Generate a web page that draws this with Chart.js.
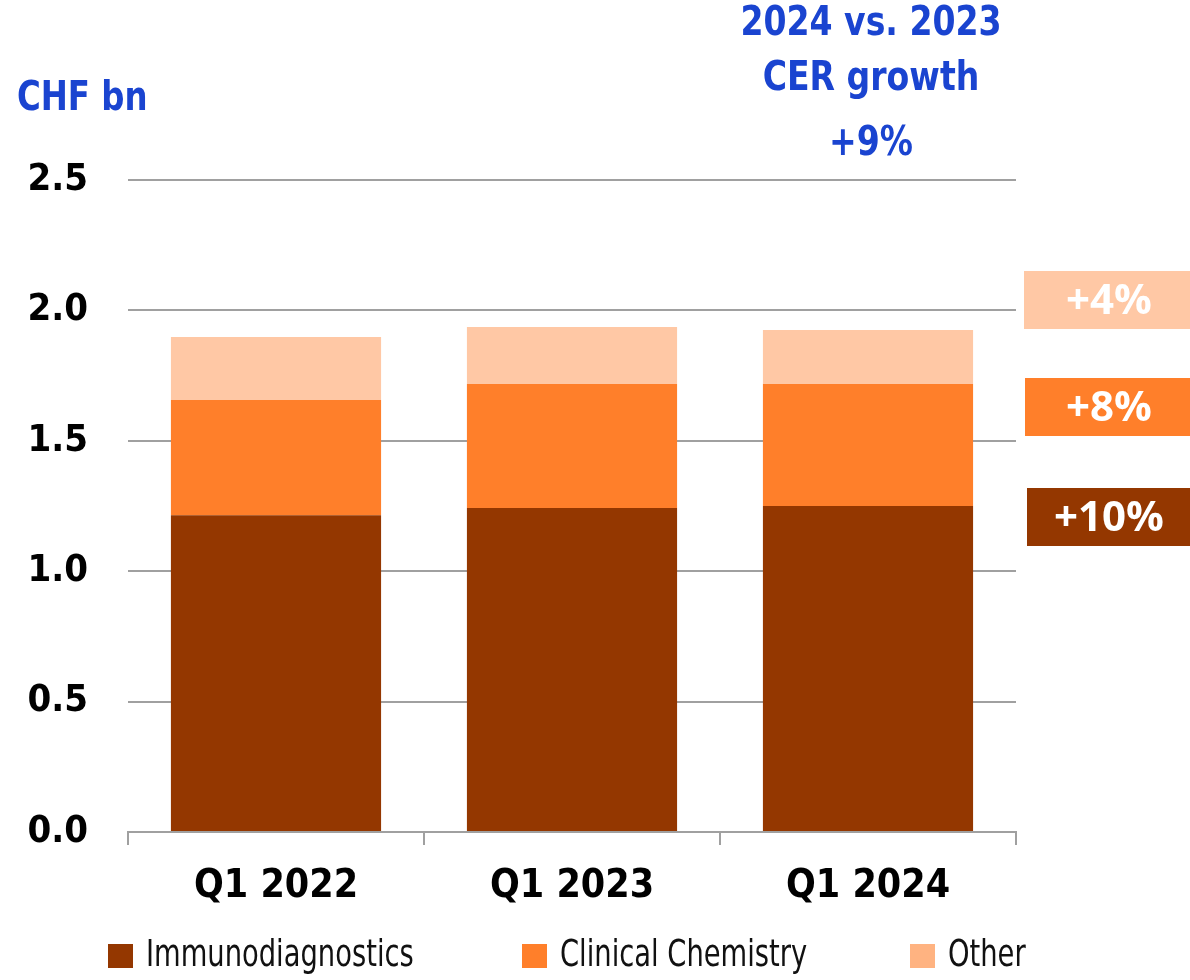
<!DOCTYPE html>
<html>
<head>
<meta charset="utf-8">
<script src="https://cdn.jsdelivr.net/npm/chart.js@4.4.1/dist/chart.umd.min.js"></script>
<style>
  html, body { margin:0; padding:0; background:#fff; }
  #wrap { position:relative; width:1190px; height:980px; }
</style>
</head>
<body>
<div id="wrap"><canvas id="chart" width="1190" height="980"></canvas></div>
<script>
// values in CHF bn
const categories = ['Q1 2022', 'Q1 2023', 'Q1 2024'];
const immunoValues = [1.215, 1.242, 1.250];
const clinicalValues = [0.441, 0.476, 0.468];
const otherValues = [0.242, 0.218, 0.207];
const yTicks = [0, 0.5, 1.0, 1.5, 2.0, 2.5];

const seriesNames = ['Immunodiagnostics', 'Clinical Chemistry', 'Other'];
const seriesColors = ['#943700', '#FF7F2A', '#FFC8A5'];
const legendColors = ['#943700', '#FF7F2A', '#FFB381'];
const growthLabels = ['+10%', '+8%', '+4%'];

const BLUE = '#1A44D0';
const COND = '"DejaVu Sans Condensed", "DejaVu Sans", sans-serif';

// draw text squeezed horizontally (the original uses a condensed face)
function squeezed(ctx, text, x, y, sx) {
  ctx.save();
  ctx.translate(x, y);
  ctx.scale(sx, 1);
  ctx.fillText(text, 0, 0);
  ctx.restore();
}

const annotations = {
  id: 'annotations',
  afterDraw(chart) {
    const ctx = chart.ctx;
    ctx.save();
    // unit + headline
    ctx.fillStyle = BLUE;
    ctx.font = 'bold 40px ' + COND;
    ctx.textBaseline = 'middle';
    ctx.textAlign = 'left';
    squeezed(ctx, 'CHF bn', 17, 100, 0.9);
    ctx.textAlign = 'center';
    squeezed(ctx, '2024 vs. 2023', 871, 25, 0.92);
    squeezed(ctx, 'CER growth', 871, 80, 0.92);
    squeezed(ctx, '+9%', 871, 145, 0.92);

    // growth badges on the right
    const badgeTops = [488, 378, 271];
    const badgeLefts = [1027, 1025, 1024];
    ctx.font = 'bold 42px "Open Sans", "Noto Sans", sans-serif';
    for (let i = 0; i < 3; i++) {
      ctx.fillStyle = seriesColors[i];
      ctx.fillRect(badgeLefts[i], badgeTops[i], 1190 - badgeLefts[i], 58);
      ctx.fillStyle = '#fff';
      ctx.fillText(growthLabels[i], 1109, badgeTops[i] + 31);
    }

    // legend
    const legendX = [108, 522, 910];
    ctx.font = '38px ' + COND;
    ctx.textAlign = 'left';
    for (let i = 0; i < 3; i++) {
      ctx.fillStyle = legendColors[i];
      ctx.fillRect(legendX[i], 944, 25, 24);
      ctx.fillStyle = '#111';
      squeezed(ctx, seriesNames[i], legendX[i] + 38, 956, 0.8);
    }
    ctx.restore();
  }
};

const mk = (i, data) => ({
  label: seriesNames[i],
  data: data,
  backgroundColor: seriesColors[i],
  borderWidth: 0,
  barPercentage: 0.71,
  categoryPercentage: 1.0
});

new Chart(document.getElementById('chart'), {
  type: 'bar',
  data: {
    labels: categories,
    datasets: [mk(0, immunoValues), mk(1, clinicalValues), mk(2, otherValues)]
  },
  options: {
    responsive: false,
    animation: false,
    devicePixelRatio: 1,
    layout: { padding: { top: 180, right: 174, bottom: 0, left: 0 } },
    plugins: { legend: { display: false }, tooltip: { enabled: false } },
    scales: {
      x: {
        stacked: true,
        grid: { display: true, drawOnChartArea: false, drawTicks: true, tickLength: 13, offset: true, color: '#A0A0A0', lineWidth: 2 },
        border: { display: true, color: '#A0A0A0', width: 2 },
        ticks: { color: '#000', padding: 18, font: { family: COND, size: 39, weight: 'bold' } },
        afterFit(scale) { scale.height = 148; }
      },
      y: {
        stacked: true,
        min: 0, max: 2.5,
        afterBuildTicks(scale) { scale.ticks = yTicks.map(v => ({ value: v })); },
        grid: { color: '#A0A0A0', lineWidth: 2, drawTicks: false },
        border: { display: false },
        ticks: {
          color: '#000', padding: 40,
          font: { family: COND, size: 38, weight: 'bold' },
          callback: v => v.toFixed(1)
        },
        afterFit(scale) { scale.width = 128; }
      }
    }
  },
  plugins: [annotations]
});
</script>
</body>
</html>
